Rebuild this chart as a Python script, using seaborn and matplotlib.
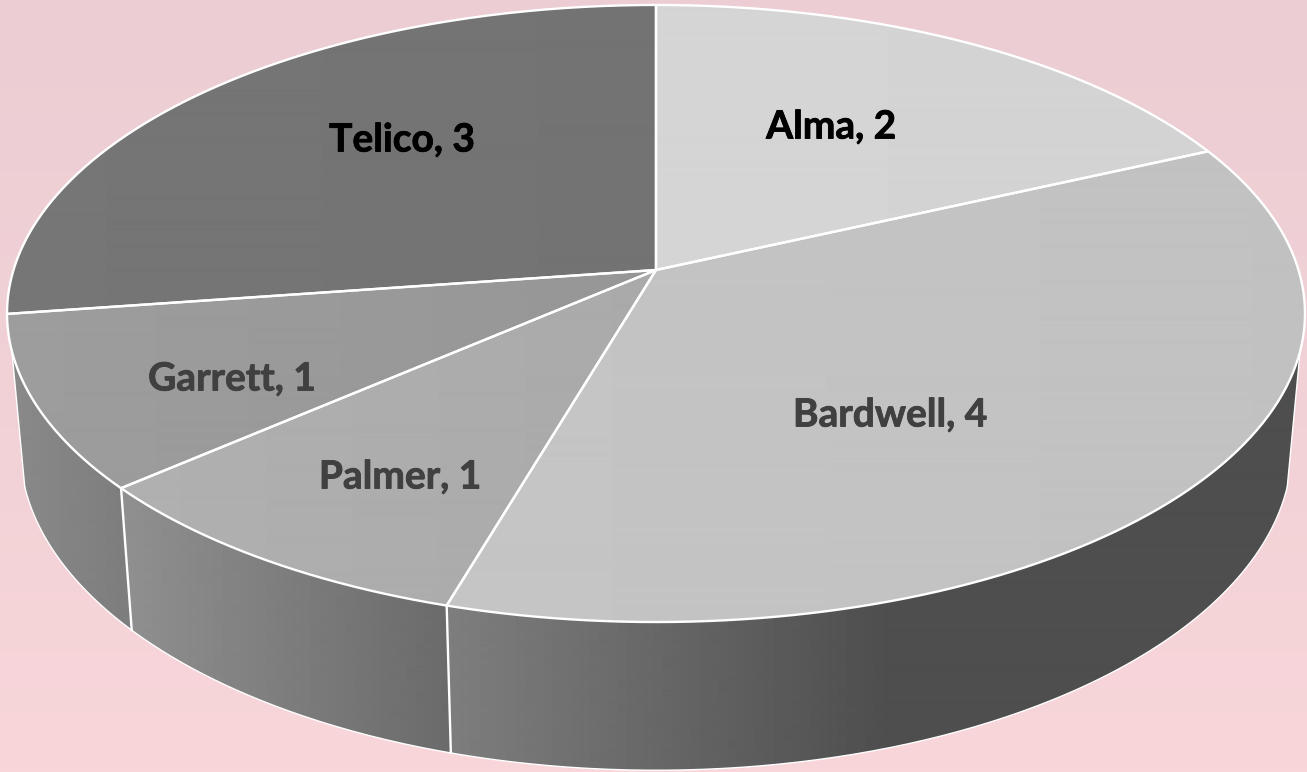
import numpy as np
import matplotlib
matplotlib.use("Agg")
import matplotlib.pyplot as plt
import matplotlib.patheffects as pe
from matplotlib.patches import Polygon
import seaborn as sns

categories = ["Alma", "Bardwell", "Palmer", "Garrett", "Telico"]
values = [2, 4, 1, 1, 3]

# layout of the tilted disc, in pixels of the picture
W, H = 1307, 772
CX = 656
TOP_Y, BOT_Y = 270, 402     # where the disc centre lands, top and bottom face
RX, RY, PERSP = 642.5, 302.4, 0.141
BOT_SX, BOT_SY = 0.98, 1.046
WALL_FROM, WALL_TO = 105, 255   # silhouette of the side wall, degrees from the top

label_xy = [(831, 127), (890, 415), (400, 477), (232, 379), (402, 140)]
label_colors = ["#000000", "#404040", "#404040", "#404040", "#000000"]

# (x, grey) stops, faces then walls
face_stops = [
    [(657, 213), (1210, 211)],
    [(447, 197), (1305, 193)],
    [(121, 176), (640, 170)],
    [(7, 157), (657, 150)],
    [(7, 118), (657, 115)],
]
wall_stops = [
    None,
    [(447, 126), (890, 78), (1307, 78)],
    [(121, 144), (447, 107)],
    [(7, 138), (121, 126)],
    None,
]


def project(deg, bottom=False):
    t = np.radians(deg)
    x, y = np.sin(t), np.cos(t)
    d = 1 + PERSP * y
    px = RX * x / d
    py = -RY * y / d
    if bottom:
        return CX + BOT_SX * px, BOT_Y + BOT_SY * py
    return CX + px, TOP_Y + py


def shade(ax, xs, ys, stops, z):
    patch = Polygon(np.column_stack([xs, ys]), closed=True, transform=ax.transData,
                    fc="none", ec="none")
    ax.add_patch(patch)
    sx, sg = zip(*stops)
    col = np.interp(np.arange(W), sx, sg)[None, :]
    im = ax.imshow(col, extent=[0, W, H, 0], cmap="gray", vmin=0, vmax=255,
                   aspect="auto", zorder=z, interpolation="bilinear")
    im.set_clip_path(patch)


sns.set_theme(style="white")
plt.rcParams["font.family"] = ["Lato", "DejaVu Sans"]

fig = plt.figure(figsize=(W / 100, H / 100), dpi=100)
ax = fig.add_axes([0, 0, 1, 1])
ax.set_axis_off()

# page background
bg_top = np.array(sns.color_palette(["#EBCDD3"])[0])
bg_bot = np.array(sns.color_palette(["#F8D6DA"])[0])
bg = np.linspace(0, 1, 256)[:, None, None] * (bg_bot - bg_top) + bg_top
ax.imshow(bg, extent=[0, W, H, 0], aspect="auto", zorder=0)

edges = np.concatenate([[0], np.cumsum(values)]) / sum(values) * 360

# walls, only the front part can be seen
for i in range(len(values)):
    a0, a1 = max(edges[i], WALL_FROM), min(edges[i + 1], WALL_TO)
    if a1 <= a0 or wall_stops[i] is None:
        continue
    t = np.linspace(a0, a1, 120)
    tx, ty = project(t)
    bx, by = project(t, bottom=True)
    shade(ax, np.r_[tx, bx[::-1]], np.r_[ty, by[::-1]], wall_stops[i], 2)

# wall outline
t = np.linspace(WALL_FROM, WALL_TO, 300)
bx, by = project(t, bottom=True)
ax.plot(bx, by, color="white", lw=1.0, zorder=3)
for a in [WALL_FROM, WALL_TO]:
    p0, p1 = project(a), project(a, bottom=True)
    ax.plot([p0[0], p1[0]], [p0[1], p1[1]], color="white", lw=1.0, zorder=3)

# seams between the walls
for a in edges[1:-1]:
    if WALL_FROM < a < WALL_TO:
        p0, p1 = project(a), project(a, bottom=True)
        ax.plot([p0[0], p1[0]], [p0[1], p1[1]], color="white", lw=1.7, zorder=3)

# top face
for i in range(len(values)):
    t = np.linspace(edges[i], edges[i + 1], 200)
    ex, ey = project(t)
    xs, ys = np.r_[CX, ex], np.r_[TOP_Y, ey]
    shade(ax, xs, ys, face_stops[i], 4)
    ax.plot(np.r_[xs, CX], np.r_[ys, TOP_Y], color="white", lw=1.7, zorder=5,
            solid_joinstyle="round")

for name, val, (lx, ly), c in zip(categories, values, label_xy, label_colors):
    txt = ax.text(lx, ly, f"{name}, {val}", ha="center", va="center", fontsize=28,
                  fontweight="bold", color=c, zorder=6)
    # the reference face is a bit heavier than Lato Bold
    txt.set_path_effects([pe.withStroke(linewidth=0.6, foreground=c)])

ax.set_xlim(0, W)
ax.set_ylim(H, 0)
fig.savefig("out.png", dpi=100)
